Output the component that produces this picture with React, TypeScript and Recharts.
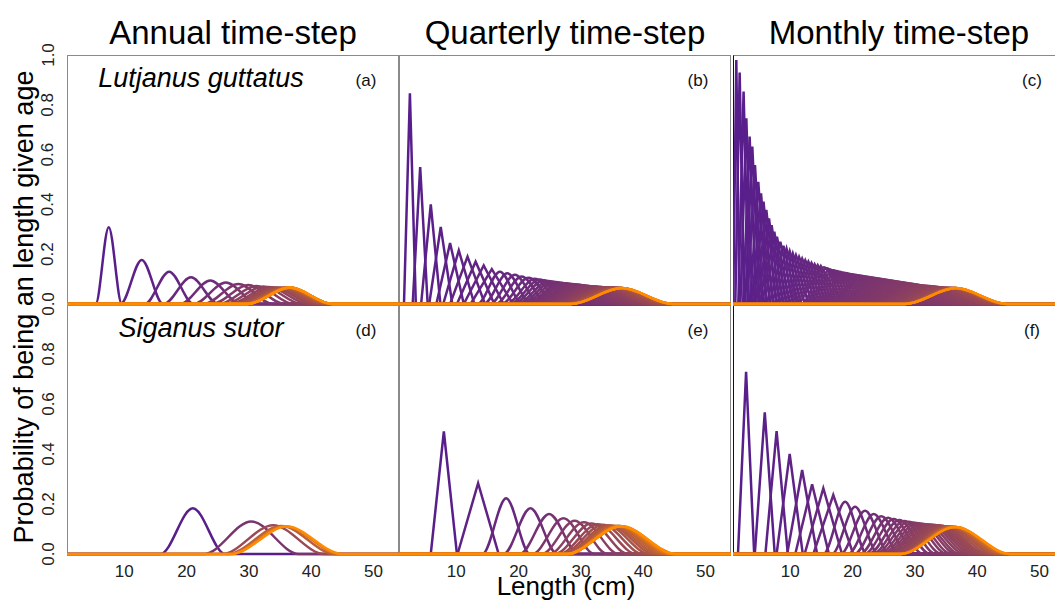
import React from "react";
import { LineChart, Line, XAxis, YAxis } from "recharts";

const FONT = '"Liberation Sans", Arial, Helvetica, sans-serif';

const timeSteps = ["Annual time-step", "Quarterly time-step", "Monthly time-step"];
const speciesNames = ["Lutjanus guttatus", "Siganus sutor"];
const panelTags = [["(a)", "(b)", "(c)"], ["(d)", "(e)", "(f)"]];

const xDomain = [0.8, 54.1];
const xTicks = [10, 20, 30, 40, 50];
const yTicksTop = [0, 0.2, 0.4, 0.6, 0.8, 1.0];
const yTicksBottom = [0, 0.2, 0.4, 0.6, 0.8];

// (a) Lutjanus guttatus, annual: age (yr), modal length (cm), peak probability, half-base width (cm)
const aAge = [1, 2, 3, 4, 5, 6, 7, 8, 9, 10, 11, 12, 13, 14, 15, 16, 17, 18, 19, 20, 21, 22, 23, 24, 25, 26, 27, 28, 29, 30];
const aLen = [7.5, 12.8, 17.2, 20.7, 23.8, 26.3, 28.3, 29.9, 31.2, 32.3, 33.2, 33.9, 34.5, 35.0, 35.4, 35.7, 35.9, 36.1, 36.2, 36.3, 36.4, 36.4, 36.5, 36.5, 36.5, 36.6, 36.6, 36.6, 36.6, 36.6];
const aProb = [0.308, 0.177, 0.13, 0.107, 0.094, 0.086, 0.08, 0.076, 0.072, 0.07, 0.068, 0.067, 0.066, 0.066, 0.065, 0.065, 0.065, 0.065, 0.066, 0.066, 0.066, 0.066, 0.066, 0.066, 0.066, 0.066, 0.066, 0.066, 0.066, 0.066];
const aSpread = [2.1, 3.4, 3.9, 4.4, 4.8, 5.2, 5.5, 5.8, 6.0, 6.2, 6.3, 6.4, 6.5, 6.6, 6.6, 6.7, 6.7, 6.8, 6.8, 6.8, 6.8, 6.8, 6.8, 6.8, 6.8, 6.8, 6.8, 6.8, 6.8, 6.8];

// (b) Lutjanus guttatus, quarterly (age in quarters)
const bAge = [1, 2, 3, 4, 5, 6, 7, 8, 9, 10, 11, 12, 13, 14, 15, 16, 17, 18, 19, 20, 21, 22, 23, 24, 25, 26, 27, 28, 29, 30, 31, 32, 33, 34, 35, 36, 37, 38, 39, 40, 41, 42, 43, 44, 45, 46, 47, 48, 49, 50, 51, 52, 53, 54, 55, 56, 57, 58, 59, 60, 61, 62, 66, 72, 80, 90, 100, 110, 120];
const bLen = [2.55, 4.2, 5.9, 7.5, 9.0, 10.4, 11.8, 13.1, 14.4, 15.7, 17.0, 18.2, 19.4, 20.5, 21.6, 22.6, 23.4, 24.1, 24.8, 25.4, 26.0, 26.6, 27.1, 27.6, 28.1, 28.6, 29.0, 29.4, 29.8, 30.2, 30.6, 31.0, 31.3, 31.6, 31.9, 32.2, 32.5, 32.8, 33.1, 33.3, 33.5, 33.7, 33.9, 34.1, 34.3, 34.5, 34.7, 34.9, 35.0, 35.1, 35.2, 35.3, 35.4, 35.5, 35.6, 35.7, 35.8, 35.9, 36.0, 36.1, 36.2, 36.3, 36.4, 36.4, 36.5, 36.5, 36.6, 36.6, 36.6];
const bProb = [0.846, 0.55, 0.4, 0.31, 0.245, 0.215, 0.19, 0.17, 0.155, 0.14, 0.13, 0.123, 0.117, 0.11, 0.105, 0.101, 0.098, 0.095, 0.092, 0.09, 0.088, 0.086, 0.084, 0.083, 0.081, 0.08, 0.079, 0.078, 0.077, 0.075, 0.074, 0.073, 0.072, 0.071, 0.071, 0.07, 0.069, 0.069, 0.068, 0.068, 0.067, 0.067, 0.066, 0.066, 0.066, 0.065, 0.065, 0.065, 0.065, 0.065, 0.065, 0.065, 0.065, 0.065, 0.065, 0.065, 0.064, 0.064, 0.064, 0.064, 0.064, 0.064, 0.064, 0.064, 0.064, 0.064, 0.064, 0.064, 0.064];
const bSpread = [0.95, 1.2, 1.55, 1.85, 2.2, 2.5, 2.8, 3.0, 3.2, 3.4, 3.6, 3.8, 4.0, 4.2, 4.4, 4.6, 4.8, 5.0, 5.1, 5.2, 5.3, 5.4, 5.5, 5.6, 5.7, 5.8, 5.9, 6.0, 6.1, 6.2, 6.3, 6.4, 6.5, 6.6, 6.7, 6.8, 6.9, 7.0, 7.05, 7.1, 7.15, 7.2, 7.25, 7.3, 7.35, 7.4, 7.45, 7.5, 7.55, 7.6, 7.65, 7.7, 7.75, 7.8, 7.85, 7.9, 7.95, 8.0, 8.0, 8.05, 8.1, 8.1, 8.1, 8.15, 8.2, 8.2, 8.2, 8.2, 8.2];

// (c) Lutjanus guttatus, monthly (age in months)
const cAge = [1, 2, 3, 4, 5, 6, 7, 8, 9, 10, 11, 12, 13, 14, 15, 16, 17, 18, 19, 20, 22, 24, 26, 28, 30, 32, 34, 36, 38, 40, 42, 44, 46, 48, 50, 52, 54, 56, 58, 60, 62, 64, 66, 68, 70, 72, 74, 76, 78, 80, 82, 84, 86, 88, 90, 92, 94, 96, 99, 102, 105, 108, 111, 114, 118, 122, 126, 130, 135, 140, 146, 152, 160, 170, 185, 200, 220, 240, 270, 300, 330, 360];
const cLen = [1.33, 1.87, 2.5, 2.94, 3.47, 3.9, 4.33, 4.86, 5.3, 5.7, 6.15, 6.58, 7.0, 7.43, 7.86, 8.4, 8.9, 9.4, 9.9, 10.4, 10.9, 11.4, 11.9, 12.4, 12.9, 13.4, 13.9, 14.4, 14.9, 15.4, 15.9, 16.4, 16.9, 17.4, 17.9, 18.4, 18.9, 19.4, 19.9, 20.4, 20.9, 21.4, 21.9, 22.4, 22.9, 23.4, 23.9, 24.4, 24.9, 25.4, 25.9, 26.4, 26.9, 27.4, 27.9, 28.4, 28.9, 29.4, 29.9, 30.4, 30.9, 31.4, 31.9, 32.4, 32.9, 33.3, 33.7, 34.1, 34.5, 34.9, 35.2, 35.5, 35.8, 36.0, 36.2, 36.3, 36.4, 36.5, 36.5, 36.6, 36.6, 36.6];
const cProb = [0.98, 0.93, 0.853, 0.746, 0.672, 0.632, 0.558, 0.491, 0.444, 0.411, 0.378, 0.344, 0.317, 0.29, 0.27, 0.25, 0.234, 0.222, 0.212, 0.203, 0.196, 0.189, 0.182, 0.176, 0.17, 0.165, 0.16, 0.156, 0.152, 0.148, 0.144, 0.139, 0.136, 0.133, 0.13, 0.127, 0.124, 0.121, 0.119, 0.117, 0.115, 0.113, 0.111, 0.109, 0.107, 0.105, 0.103, 0.101, 0.099, 0.097, 0.095, 0.093, 0.091, 0.089, 0.087, 0.085, 0.083, 0.081, 0.079, 0.077, 0.075, 0.074, 0.073, 0.072, 0.07, 0.069, 0.068, 0.067, 0.066, 0.065, 0.065, 0.065, 0.065, 0.064, 0.064, 0.064, 0.064, 0.064, 0.064, 0.064, 0.064, 0.064];
const cSpread = [0.5, 0.7, 0.85, 0.95, 1.05, 1.15, 1.25, 1.35, 1.45, 1.55, 1.65, 1.75, 1.85, 1.95, 2.05, 2.15, 2.25, 2.35, 2.45, 2.55, 2.65, 2.75, 2.85, 2.95, 3.05, 3.15, 3.25, 3.35, 3.45, 3.55, 3.65, 3.75, 3.85, 3.95, 4.05, 4.15, 4.25, 4.35, 4.45, 4.55, 4.6, 4.7, 4.8, 4.9, 5.0, 5.1, 5.2, 5.3, 5.4, 5.5, 5.6, 5.7, 5.8, 5.9, 6.0, 6.1, 6.2, 6.3, 6.4, 6.5, 6.6, 6.7, 6.8, 6.9, 7.0, 7.1, 7.2, 7.3, 7.4, 7.5, 7.6, 7.7, 7.8, 7.9, 8.0, 8.0, 8.1, 8.1, 8.2, 8.2, 8.2, 8.2];

// (d) Siganus sutor, annual
const dAge = [1, 2, 3, 4, 5, 6];
const dLen = [21.0, 30.4, 33.9, 35.2, 35.8, 36.1];
const dProb = [0.183, 0.13, 0.115, 0.112, 0.111, 0.11];
const dSpread = [5.2, 7.6, 8.2, 8.6, 8.8, 8.9];

// (e) Siganus sutor, quarterly
const eAge = [1, 2, 3, 4, 5, 6, 7, 8, 9, 10, 11, 12, 13, 14, 15, 16, 17, 18, 19, 20, 21, 22, 23, 24];
const eLen = [8.0, 13.5, 18.0, 21.9, 24.9, 27.2, 29.0, 30.5, 31.7, 32.7, 33.5, 34.2, 34.7, 35.1, 35.5, 35.8, 36.0, 36.1, 36.2, 36.3, 36.4, 36.4, 36.5, 36.5];
const eProb = [0.49, 0.283, 0.223, 0.183, 0.16, 0.143, 0.133, 0.127, 0.122, 0.119, 0.117, 0.115, 0.114, 0.113, 0.112, 0.112, 0.112, 0.112, 0.112, 0.111, 0.111, 0.111, 0.111, 0.111];
const eSpread = [2.1, 3.3, 3.8, 4.3, 4.7, 5.0, 5.3, 5.6, 5.9, 6.2, 6.5, 6.8, 7.1, 7.4, 7.7, 7.9, 8.1, 8.3, 8.4, 8.5, 8.6, 8.7, 8.8, 8.8];

// (f) Siganus sutor, monthly
const fAge = [1, 2, 3, 4, 5, 6, 7, 8, 9, 10, 11, 12, 13, 14, 15, 16, 17, 18, 19, 20, 21, 22, 23, 24, 25, 26, 27, 28, 29, 30, 33, 36, 40, 44, 48, 54, 60, 66, 72];
const fLen = [2.9, 5.9, 7.8, 9.9, 11.9, 13.5, 15.3, 16.9, 18.8, 20.4, 22.0, 23.4, 24.6, 25.7, 26.6, 27.5, 28.3, 29.0, 29.7, 30.3, 30.9, 31.4, 31.9, 32.4, 32.8, 33.2, 33.6, 33.9, 34.2, 34.5, 34.9, 35.3, 35.6, 35.9, 36.1, 36.3, 36.4, 36.5, 36.5];
const fProb = [0.729, 0.567, 0.492, 0.4, 0.336, 0.279, 0.263, 0.236, 0.209, 0.189, 0.173, 0.16, 0.151, 0.145, 0.14, 0.136, 0.132, 0.129, 0.126, 0.124, 0.122, 0.12, 0.119, 0.118, 0.117, 0.116, 0.115, 0.114, 0.113, 0.112, 0.111, 0.11, 0.11, 0.109, 0.109, 0.108, 0.108, 0.108, 0.108];
const fSpread = [1.3, 1.6, 1.8, 2.1, 2.4, 2.7, 3.0, 3.2, 3.5, 3.7, 3.9, 4.1, 4.3, 4.5, 4.7, 4.9, 5.1, 5.3, 5.5, 5.6, 5.8, 5.9, 6.1, 6.2, 6.4, 6.5, 6.6, 6.8, 6.9, 7.0, 7.3, 7.6, 7.9, 8.2, 8.4, 8.6, 8.7, 8.8, 8.8];

const youngColor = [88, 30, 140];
const oldColor = [255, 140, 0];

function ageColor(t: number) {
  const c = youngColor.map((v, k) => Math.round(v + (oldColor[k] - v) * t));
  return `rgb(${c[0]},${c[1]},${c[2]})`;
}

type Curve = { data: { x: number; y: number }[]; color: string; type: "linear" | "monotone" };

function buildCurves(ages: number[], lens: number[], probs: number[], spreads: number[], smooth: boolean): Curve[] {
  const maxAge = ages[ages.length - 1];
  return lens.map((len, i) => {
    const lo = Math.max(xDomain[0], len - spreads[i]);
    const hi = Math.min(xDomain[1], len + spreads[i]);
    const pts: { x: number; y: number }[] = [];
    if (lo > xDomain[0]) pts.push({ x: xDomain[0], y: 0 });
    pts.push({ x: lo, y: 0 }, { x: len, y: probs[i] }, { x: hi, y: 0 });
    if (hi < xDomain[1]) pts.push({ x: xDomain[1], y: 0 });
    return {
      data: pts,
      color: ageColor((ages[i] - 1) / (maxAge - 1)),
      type: smooth || spreads[i] >= 3.5 ? "monotone" : "linear",
    };
  });
}

const panels = [
  { row: 0, col: 0, curves: buildCurves(aAge, aLen, aProb, aSpread, true) },
  { row: 0, col: 1, curves: buildCurves(bAge, bLen, bProb, bSpread, false) },
  { row: 0, col: 2, curves: buildCurves(cAge, cLen, cProb, cSpread, false) },
  { row: 1, col: 0, curves: buildCurves(dAge, dLen, dProb, dSpread, true) },
  { row: 1, col: 1, curves: buildCurves(eAge, eLen, eProb, eSpread, false) },
  { row: 1, col: 2, curves: buildCurves(fAge, fLen, fProb, fSpread, false) },
];

const colLeft = [67, 399, 733];
const rowTop = [55, 304];
const rowHeight = [249, 250];
const PLOT_W = 332;
const Y_AXIS_W = 67;
const X_AXIS_H = 40;
const PAD = 14;

function Panel({ row, col, curves }: { row: number; col: number; curves: Curve[] }) {
  const showY = col === 0;
  const showX = row === 1;
  const yw = showY ? Y_AXIS_W : 0;
  const plotH = rowHeight[row];
  const bottom = showX ? 0 : PAD;
  const xh = showX ? X_AXIS_H : 0;
  return (
    <div style={{ position: "absolute", left: colLeft[col] - yw, top: rowTop[row] - PAD }}>
      <LineChart width={PLOT_W + yw} height={PAD + plotH + bottom + xh} margin={{ top: PAD, right: 0, bottom, left: 0 }}>
        <XAxis
          type="number"
          dataKey="x"
          domain={xDomain}
          ticks={xTicks}
          interval={0}
          hide={!showX}
          height={X_AXIS_H}
          axisLine={false}
          tickLine={false}
          tick={(p: any) => (
            <text x={p.x} y={PAD + plotH + 23} textAnchor="middle" fontSize={17} fontFamily={FONT} fill="#222">
              {p.payload.value}
            </text>
          )}
        />
        <YAxis
          type="number"
          domain={[0, 1]}
          ticks={row === 0 ? yTicksTop : yTicksBottom}
          interval={0}
          hide={!showY}
          width={Y_AXIS_W}
          axisLine={false}
          tickLine={false}
          tick={(p: any) => (
            <text
              x={53.5}
              y={p.y}
              transform={`rotate(-90 53.5 ${p.y})`}
              textAnchor="middle"
              fontSize={17}
              fontFamily={FONT}
              fill="#222"
            >
              {Number(p.payload.value).toFixed(1)}
            </text>
          )}
        />
        {curves.map((c, i) => (
          <Line
            key={i}
            data={c.data}
            dataKey="y"
            type={c.type}
            stroke={c.color}
            strokeWidth={2.5}
            dot={false}
            activeDot={false}
            isAnimationActive={false}
          />
        ))}
      </LineChart>
    </div>
  );
}

export default function App() {
  return (
    <div
      style={{
        position: "absolute",
        left: 0,
        top: 0,
        width: 1055,
        height: 602,
        overflow: "hidden",
        background: "#fff",
        fontFamily: FONT,
      }}
    >
      {panels.map((p) => (
        <div
          key={`box${p.row}${p.col}`}
          style={{
            position: "absolute",
            left: colLeft[p.col],
            top: rowTop[p.row],
            width: PLOT_W,
            height: rowHeight[p.row],
            boxSizing: "border-box",
            border: "1px solid #8a8a8a",
            borderLeft: p.col === 2 ? "1px solid #111" : "1px solid #8a8a8a",
          }}
        />
      ))}
      {panels.map((p) => (
        <Panel key={`p${p.row}${p.col}`} row={p.row} col={p.col} curves={p.curves} />
      ))}
      <svg width={1055} height={602} style={{ position: "absolute", left: 0, top: 0, pointerEvents: "none" }}>
        {timeSteps.map((t, i) => (
          <text key={t} x={colLeft[i] + PLOT_W / 2} y={44} textAnchor="middle" fontSize={33} fontFamily={FONT} fill="#000">
            {t}
          </text>
        ))}
        {speciesNames.map((s, i) => (
          <text
            key={s}
            x={201}
            y={[87, 337][i]}
            textAnchor="middle"
            fontSize={27}
            fontStyle="italic"
            fontFamily={FONT}
            fill="#000"
          >
            {s}
          </text>
        ))}
        {panelTags.map((r, ri) =>
          r.map((tag, ci) => (
            <text
              key={tag}
              x={colLeft[ci] + 299}
              y={[85.5, 335.5][ri]}
              textAnchor="middle"
              fontSize={17}
              fontFamily={FONT}
              fill="#111"
            >
              {tag}
            </text>
          ))
        )}
        <text transform="translate(33 307) rotate(-90)" textAnchor="middle" fontSize={27} fontFamily={FONT} fill="#000">
          Probability of being an length given age
        </text>
        <text x={566} y={595} textAnchor="middle" fontSize={26} fontFamily={FONT} fill="#000">
          Length (cm)
        </text>
      </svg>
    </div>
  );
}
